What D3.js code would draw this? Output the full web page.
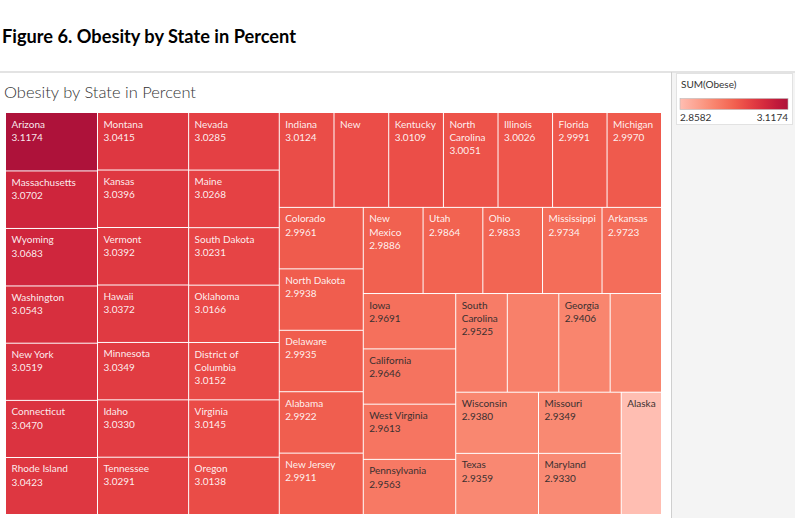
<!DOCTYPE html>
<html><head><meta charset="utf-8">
<script src="https://cdn.jsdelivr.net/npm/d3@7"></script>
<style>
body{margin:0;background:#fff;}
svg{display:block;font-family:Lato,"Open Sans",sans-serif;}
</style>
</head><body><svg id="c" width="795" height="518"></svg>
<script>
const states = ["Arizona","Massachusetts","Wyoming","Washington","New York","Connecticut","Rhode Island",
  "Montana","Kansas","Vermont","Hawaii","Minnesota","Idaho","Tennessee",
  "Nevada","Maine","South Dakota","Oklahoma","District of Columbia","Virginia","Oregon",
  "Indiana","New Hampshire","Kentucky","North Carolina","Illinois","Florida","Michigan",
  "Colorado","North Dakota","Delaware","Alabama","New Jersey",
  "New Mexico","Utah","Ohio","Mississippi","Arkansas",
  "Iowa","California","West Virginia","Pennsylvania",
  "South Carolina","Louisiana","Georgia","Nebraska",
  "Wisconsin","Texas","Missouri","Maryland","Alaska"];
const values = [3.1174,3.0702,3.0683,3.0543,3.0519,3.0470,3.0423,
  3.0415,3.0396,3.0392,3.0372,3.0349,3.0330,3.0291,
  3.0285,3.0268,3.0231,3.0166,3.0152,3.0145,3.0138,
  3.0124,3.0117,3.0109,3.0051,3.0026,2.9991,2.9970,
  2.9961,2.9938,2.9935,2.9922,2.9911,
  2.9886,2.9864,2.9833,2.9734,2.9723,
  2.9691,2.9646,2.9613,2.9563,
  2.9525,2.9470,2.9406,2.9392,
  2.9380,2.9359,2.9349,2.9330,2.8582];
const unlabeled = ["Louisiana","Nebraska"];
const nameOnly = ["Alaska","New Hampshire"];
const legendTicks = [2.8582, 3.1174];
const palette = ["#ffbeb2","#feb4a6","#fdab9b","#fca290","#fb9984","#fa8f79","#f9856e","#f77b66","#f5715d","#f36754",
  "#f05c4d","#ec5049","#e74545","#e13b42","#da323f","#d3293d","#ca223c","#c11a3b","#b8163a","#ae123a"];
const figureTitle = "Figure 6. Obesity by State in Percent";
const chartTitle = "Obesity by State in Percent";
const legendTitle = "SUM(Obese)";

const svg = d3.select("#c");
const W = 795, H = 518;

// figure title
svg.append("text").attr("x", 2).attr("y", 43)
  .attr("font-family", "Lato, sans-serif").attr("font-weight", 700).attr("font-size", 19.5)
  .attr("fill", "#000").attr("textLength", 294).attr("lengthAdjust", "spacingAndGlyphs")
  .text(figureTitle);

// separators and legend panel
svg.append("rect").attr("x", 672).attr("y", 72).attr("width", W - 672).attr("height", H - 72).attr("fill", "#f4f4f4");
svg.append("line").attr("x1", 0).attr("x2", W).attr("y1", 72).attr("y2", 72).attr("stroke", "#e3e3e3").attr("stroke-width", 2);
svg.append("line").attr("x1", 671.5).attr("x2", 671.5).attr("y1", 72).attr("y2", H).attr("stroke", "#cfcfcf").attr("stroke-width", 1);

// chart title
svg.append("text").attr("x", 4).attr("y", 98)
  .attr("font-weight", 300).attr("font-size", 16).attr("fill", "#333")
  .attr("textLength", 192).attr("lengthAdjust", "spacingAndGlyphs")
  .text(chartTitle);

// colour scale
const color = d3.scaleSequential(d3.interpolateRgbBasis(palette)).domain(d3.extent(values));

// treemap
const data = states.map((s, i) => ({name: s, value: values[i]}));
const root = d3.hierarchy({children: data}).sum(d => d.value || 0).sort((a, b) => b.value - a.value);
const X0 = 6, Y0 = 113, TW = 655, TH = 401;
d3.treemap().tile(d3.treemapSquarify).size([TW, TH]).paddingInner(1).round(false)(root);

const g = svg.append("g").attr("transform", `translate(${X0},${Y0})`);
const cells = g.selectAll("g.cell").data(root.leaves()).join("g").attr("class", "cell");
cells.append("rect")
  .attr("x", d => d.x0).attr("y", d => d.y0)
  .attr("width", d => d.x1 - d.x0).attr("height", d => d.y1 - d.y0)
  .attr("fill", d => color(d.data.value));

// label measuring
const FS = 10;
const meas = svg.append("text").attr("font-size", FS).attr("visibility", "hidden");
function tw(s) { meas.text(s); return meas.node().getComputedTextLength(); }
function labelLines(d) {
  if (unlabeled.includes(d.data.name)) return [];
  const maxW = (d.x1 - d.x0) - 8;
  const words = d.data.name.split(" ");
  const lines = [];
  let cur = "";
  let broken = false;
  for (const w of words) {
    const t = cur ? cur + " " + w : w;
    if (tw(t) <= maxW) { cur = t; }
    else {
      if (!cur) return lines;
      lines.push(cur);
      if (tw(w) > maxW) { broken = true; cur = ""; break; }
      cur = w;
    }
  }
  if (cur) lines.push(cur);
  if (broken || nameOnly.includes(d.data.name)) return lines;
  const v = d.data.value.toFixed(4);
  if (tw(v) <= maxW) lines.push(v);
  return lines;
}
cells.each(function(d) {
  const lines = labelLines(d);
  const dark = d.data.value < 2.971;
  const t = d3.select(this).append("text").attr("font-size", FS)
    .attr("fill", dark ? "#3a3030" : "#fff").attr("fill-opacity", dark ? 1 : 0.92);
  lines.forEach((l, i) => {
    t.append("tspan").attr("x", d.x0 + 5.5).attr("y", d.y0 + 14.5 + i * 13.2).text(l);
  });
});
meas.remove();

// legend
svg.append("rect").attr("x", 676.5).attr("y", 73.5).attr("width", 116).attr("height", 51)
  .attr("fill", "#fff").attr("stroke", "#e2e2e2");
svg.append("text").attr("x", 681).attr("y", 87.5).attr("font-size", 10).attr("fill", "#333").text(legendTitle);
const grad = svg.append("defs").append("linearGradient").attr("id", "lg");
palette.forEach((c, i) => grad.append("stop").attr("offset", i / (palette.length - 1)).attr("stop-color", c));
const lx = d3.scaleLinear().domain(legendTicks).range([680, 788]);
svg.append("rect").attr("x", lx(legendTicks[0])).attr("y", 98.5).attr("width", lx(legendTicks[1]) - lx(legendTicks[0])).attr("height", 11)
  .attr("fill", "url(#lg)").attr("stroke", "#b9b9b9").attr("stroke-width", 0.6);
svg.append("text").attr("x", lx(legendTicks[0])).attr("y", 120.5).attr("font-size", 10).attr("fill", "#333").text(legendTicks[0].toFixed(4));
svg.append("text").attr("x", lx(legendTicks[1])).attr("y", 120.5).attr("font-size", 10).attr("fill", "#333").attr("text-anchor", "end").text(legendTicks[1].toFixed(4));
</script>
</body></html>
